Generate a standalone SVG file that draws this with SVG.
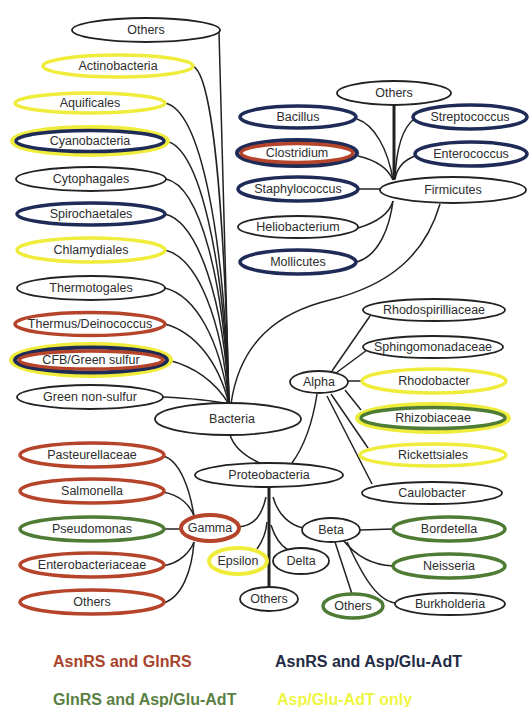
<svg xmlns="http://www.w3.org/2000/svg" width="531" height="707" viewBox="0 0 531 707">
<style>
text{font-family:"Liberation Sans",Arial,sans-serif;font-size:12.5px;fill:#2d2d2d;text-anchor:middle}
ellipse{fill:#fff}
.k{stroke:#222;stroke-width:1.8}
.r{stroke:#b5442b;stroke-width:3.5}
.b{stroke:#1e2b57;stroke-width:3.5}
.g{stroke:#4f7c35;stroke-width:3.5}
.y{stroke:#f0ec3c;stroke-width:3.5}
.yo{stroke:#f0ec3c;stroke-width:4}
.bo{stroke:#1e2b57;stroke-width:4}
.c path{fill:none;stroke:#222;stroke-width:1.5}
.c .t{stroke-width:3}
.lg{font-size:16px;font-weight:bold;text-anchor:start}
</style>
<rect width="531" height="707" fill="#fff"/>
<g class="c" id="connectors">
<path d="M219,32 C222,100 226,250 229,404"/>
<path d="M193,66 C212,75 224,200 229,404"/>
<path d="M165,103 C200,110 224,230 229,404"/>
<path d="M166,141 C200,148 224,260 229,404"/>
<path d="M166,179 C200,186 224,280 229,404"/>
<path d="M165,214 C198,222 224,300 229,404"/>
<path d="M165,250 C198,258 222,320 229,404"/>
<path d="M165,288 C196,296 220,340 229,404"/>
<path d="M165,324 C194,332 218,360 229,404"/>
<path d="M168,360 C192,366 214,380 229,404"/>
<path d="M163,397 C185,398 210,400 229,404"/>
<path d="M440,204 C425,255 390,285 330,300 C280,312 240,340 231,404"/>
<path d="M230,435 C235,450 248,458 262,464"/>
<path d="M317,394 C313,420 305,445 292,463"/>
<path class="t" d="M394,105 L394,180"/>
<path d="M357,119 C375,125 388,150 393,180"/>
<path d="M358,156 C375,160 388,168 393,180"/>
<path d="M358,189 L381,189"/>
<path d="M358,228 C378,222 390,212 393,201"/>
<path d="M357,262 C380,255 390,225 393,201"/>
<path d="M414,119 C400,130 396,155 395,179"/>
<path d="M415,156 C404,160 397,168 395,179"/>
<path d="M332,371 L370,316"/>
<path d="M336,373 L367,350"/>
<path d="M348,381 L362,381"/>
<path d="M345,390 L361,410"/>
<path d="M331,394 L368,448"/>
<path d="M327,396 L372,484"/>
<path class="t" d="M269,487 L269,587"/>
<path d="M266,497 C262,515 255,525 239,527"/>
<path d="M267,522 C266,535 262,542 257,549"/>
<path d="M271,525 C274,535 280,545 288,550"/>
<path d="M273,497 C278,515 290,525 303,528"/>
<path d="M360,530 L393,529"/>
<path d="M343,540 C355,555 370,565 393,566"/>
<path d="M347,542 C360,570 375,600 395,603"/>
<path d="M335,542 L352,594"/>
<path d="M163,456 C180,460 190,490 194,516"/>
<path d="M163,492 C180,495 190,505 194,516"/>
<path d="M163,529 L181,529"/>
<path d="M163,566 C180,563 190,552 194,542"/>
<path d="M163,603 C182,598 192,570 194,542"/>
</g>
<g id="others-top"><ellipse class="k" cx="146" cy="30" rx="74" ry="12"/><text x="146" y="34">Others</text></g>
<g id="actinobacteria"><ellipse class="y" cx="118" cy="66" rx="75" ry="11"/><text x="118" y="70">Actinobacteria</text></g>
<g id="aquificales"><ellipse class="y" cx="90" cy="103" rx="75" ry="10"/><text x="90" y="107">Aquificales</text></g>
<g id="cyanobacteria"><ellipse class="yo" cx="90" cy="141" rx="78" ry="14"/><ellipse class="b" cx="90" cy="141" rx="74" ry="10.5"/><text x="90" y="145">Cyanobacteria</text></g>
<g id="cytophagales"><ellipse class="k" cx="91" cy="179" rx="75" ry="12"/><text x="91" y="183">Cytophagales</text></g>
<g id="spirochaetales"><ellipse class="b" cx="91" cy="214" rx="74" ry="11"/><text x="91" y="218">Spirochaetales</text></g>
<g id="chlamydiales"><ellipse class="y" cx="91" cy="250" rx="74" ry="12"/><text x="91" y="254">Chlamydiales</text></g>
<g id="thermotogales"><ellipse class="k" cx="91" cy="288" rx="74" ry="12"/><text x="91" y="292">Thermotogales</text></g>
<g id="thermus"><ellipse class="r" cx="90" cy="324" rx="75" ry="11.5"/><text x="90" y="328">Thermus/Deinococcus</text></g>
<g id="cfb"><ellipse class="yo" cx="91" cy="360" rx="80" ry="16"/><ellipse class="bo" cx="91" cy="360" rx="76" ry="12.5"/><ellipse class="r" cx="91" cy="360" rx="72" ry="9"/><text x="91" y="364">CFB/Green sulfur</text></g>
<g id="green-nonsulfur"><ellipse class="k" cx="90" cy="397" rx="73" ry="12"/><text x="90" y="401">Green non-sulfur</text></g>
<g id="bacteria"><ellipse class="k" cx="228" cy="419" rx="73" ry="16"/><text x="232" y="423">Bacteria</text></g>
<g id="firm-others"><ellipse class="k" cx="394" cy="93" rx="57" ry="12"/><text x="394" y="97">Others</text></g>
<g id="bacillus"><ellipse class="b" cx="298" cy="117" rx="58" ry="11"/><text x="298" y="121">Bacillus</text></g>
<g id="clostridium"><ellipse class="bo" cx="297" cy="153" rx="60" ry="13"/><ellipse class="r" cx="297" cy="153" rx="56" ry="9.5"/><text x="297" y="157">Clostridium</text></g>
<g id="staphylococcus"><ellipse class="b" cx="298" cy="189" rx="60" ry="12"/><text x="298" y="193">Staphylococcus</text></g>
<g id="heliobacterium"><ellipse class="k" cx="298" cy="227" rx="60" ry="11"/><text x="298" y="231">Heliobacterium</text></g>
<g id="mollicutes"><ellipse class="b" cx="298" cy="262" rx="58" ry="12"/><text x="298" y="266">Mollicutes</text></g>
<g id="streptococcus"><ellipse class="b" cx="470" cy="117" rx="57" ry="12"/><text x="470" y="121">Streptococcus</text></g>
<g id="enterococcus"><ellipse class="b" cx="471" cy="154" rx="56" ry="12"/><text x="471" y="158">Enterococcus</text></g>
<g id="firmicutes"><ellipse class="k" cx="453" cy="190" rx="73" ry="13"/><text x="453" y="194">Firmicutes</text></g>
<g id="rhodospirilliaceae"><ellipse class="k" cx="434" cy="310" rx="71" ry="11"/><text x="434" y="314">Rhodospirilliaceae</text></g>
<g id="sphingomonadaceae"><ellipse class="k" cx="433" cy="347" rx="70" ry="11"/><text x="433" y="351">Sphingomonadaceae</text></g>
<g id="rhodobacter"><ellipse class="y" cx="434" cy="381" rx="72" ry="12"/><text x="434" y="385">Rhodobacter</text></g>
<g id="rhizobiaceae"><ellipse class="yo" cx="433" cy="418" rx="76" ry="14"/><ellipse class="g" cx="433" cy="418" rx="72" ry="10.5"/><text x="433" y="422">Rhizobiaceae</text></g>
<g id="rickettsiales"><ellipse class="y" cx="433" cy="455" rx="73" ry="11"/><text x="433" y="459">Rickettsiales</text></g>
<g id="caulobacter"><ellipse class="k" cx="432" cy="493" rx="70" ry="11"/><text x="432" y="497">Caulobacter</text></g>
<g id="alpha"><ellipse class="k" cx="319" cy="382" rx="29" ry="11"/><text x="319" y="386">Alpha</text></g>
<g id="proteobacteria"><ellipse class="k" cx="269" cy="475" rx="74" ry="12"/><text x="269" y="479">Proteobacteria</text></g>
<g id="pasteurellaceae"><ellipse class="r" cx="92" cy="455" rx="72" ry="12"/><text x="92" y="459">Pasteurellaceae</text></g>
<g id="salmonella"><ellipse class="r" cx="92" cy="491" rx="72" ry="12"/><text x="92" y="495">Salmonella</text></g>
<g id="pseudomonas"><ellipse class="g" cx="92" cy="529" rx="72" ry="12"/><text x="92" y="533">Pseudomonas</text></g>
<g id="enterobacteriaceae"><ellipse class="r" cx="92" cy="565" rx="72" ry="12"/><text x="92" y="569">Enterobacteriaceae</text></g>
<g id="gamma-others"><ellipse class="r" cx="92" cy="602" rx="72" ry="12"/><text x="92" y="606">Others</text></g>
<g id="gamma"><ellipse class="r" cx="210" cy="528" rx="29" ry="13" style="stroke-width:4"/><text x="210" y="532">Gamma</text></g>
<g id="epsilon"><ellipse class="y" cx="238" cy="561" rx="29" ry="13" style="stroke-width:4"/><text x="238" y="565">Epsilon</text></g>
<g id="delta"><ellipse class="k" cx="301" cy="561" rx="28" ry="13"/><text x="301" y="565">Delta</text></g>
<g id="proteo-others"><ellipse class="k" cx="269" cy="599" rx="29" ry="12"/><text x="269" y="603">Others</text></g>
<g id="beta"><ellipse class="k" cx="331" cy="530" rx="29" ry="12"/><text x="331" y="534">Beta</text></g>
<g id="beta-others"><ellipse class="g" cx="353" cy="606" rx="30" ry="12"/><text x="353" y="610">Others</text></g>
<g id="bordetella"><ellipse class="g" cx="449" cy="529" rx="56" ry="12"/><text x="449" y="533">Bordetella</text></g>
<g id="neisseria"><ellipse class="g" cx="449" cy="566" rx="56" ry="12"/><text x="449" y="570">Neisseria</text></g>
<g id="burkholderia"><ellipse class="k" cx="450" cy="604" rx="55" ry="11"/><text x="450" y="608">Burkholderia</text></g>
<g id="legend">
<text class="lg" x="53" y="667" style="fill:#a8432c">AsnRS and GlnRS</text>
<text class="lg" x="275" y="667" style="fill:#232b45">AsnRS and Asp/Glu-AdT</text>
<text class="lg" x="53" y="705" style="fill:#5a7f43">GlnRS and Asp/Glu-AdT</text>
<text class="lg" x="277" y="705" style="fill:#eef542">Asp/Glu-AdT only</text>
</g>
</svg>
